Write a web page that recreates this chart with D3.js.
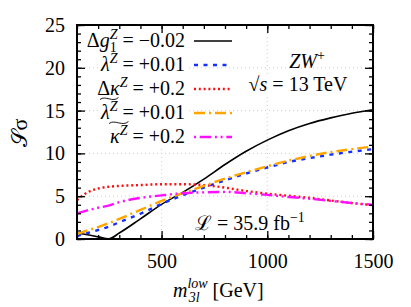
<!DOCTYPE html>
<html lang="en">
<head>
<meta charset="UTF-8">
<title>ZW+ sigma</title>
<script src="https://cdnjs.cloudflare.com/ajax/libs/d3/7.8.5/d3.min.js"></script>
<style>
  body { margin: 0; background: #fff; }
</style>
</head>
<body>
<svg width="411" height="307"></svg>
<script>
// m3l^low grid (GeV)
const mass = [100, 150, 200, 250, 300, 400, 500, 600, 700, 800, 900, 1000, 1100, 1200, 1300, 1400, 1500];
// significance for each coupling
const dg1 = [0.67, 0.5, 0.25, 0.02, 0.7, 2.35, 4.05, 5.45, 7.0, 8.7, 10.25, 11.55, 12.65, 13.5, 14.15, 14.7, 15.1];
const lam = [0.35, 0.7, 1.05, 1.45, 1.95, 2.95, 4.1, 5.1, 6.0, 6.85, 7.65, 8.35, 9.0, 9.45, 9.85, 10.2, 10.5];
const dkap = [4.55, 5.45, 5.9, 6.1, 6.2, 6.3, 6.4, 6.4, 6.3, 6.0, 5.6, 5.3, 5.05, 4.8, 4.5, 4.2, 3.95];
const lamT = [0.58, 1.0, 1.4, 1.85, 2.35, 3.4, 4.45, 5.35, 6.2, 7.05, 7.8, 8.5, 9.15, 9.7, 10.15, 10.5, 10.8];
const kapT = [3.0, 3.35, 3.65, 3.9, 4.3, 4.8, 5.1, 5.35, 5.45, 5.5, 5.35, 5.15, 4.9, 4.7, 4.45, 4.2, 4.0];

const xTicks = [500, 1000, 1500];
const yTicks = [0, 5, 10, 15, 20, 25];

const FONT = "Liberation Serif";
const svg = d3.select("svg");
const margin = {left: 77, top: 25, right: 38, bottom: 68};
const W = 411, H = 307;
const x = d3.scaleLinear().domain([100, 1500]).range([margin.left, W - margin.right]);
const y = d3.scaleLinear().domain([0, 25]).range([H - margin.bottom, margin.top]);

const series = [
  {vals: dg1,  color: "#000", width: 1.6, dash: null},
  {vals: lam,  color: "#1530ff", width: 2.4, dash: "4,5.5"},
  {vals: dkap, color: "#ff1010", width: 2.4, dash: "2,2.8"},
  {vals: lamT, color: "#ffa500", width: 2.4, dash: "11,4,2,4"},
  {vals: kapT, color: "#ff10ff", width: 2.4, dash: "11.5,3.7,2,3.7,2,3.7"}
];

// grid
const grid = svg.append("g").attr("stroke", "#cfcfcf").attr("stroke-width", 1).attr("stroke-dasharray", "1,3");
[500, 1000].forEach(v => grid.append("line").attr("x1", x(v)).attr("x2", x(v)).attr("y1", y(25)).attr("y2", y(0)));
[5, 10, 15, 20].forEach(v => grid.append("line").attr("x1", x(100)).attr("x2", x(1500)).attr("y1", y(v)).attr("y2", y(v)));

// opaque box behind a text
function opaque(t, pad) {
  const node = t.node();
  const b = node.getBBox();
  d3.select(node.parentNode).insert("rect", () => node)
    .attr("x", b.x - pad).attr("y", b.y + 2).attr("width", b.width + 2 * pad).attr("height", b.height - 3)
    .attr("fill", "#fff");
}

// legend
const legend = svg.append("g");
const legX = 185, rows = [41, 65, 89, 113, 137];
const fs = 20, fsm = 14;
function addLabel(i, parts) {
  const t = legend.append("text").attr("x", legX).attr("y", rows[i] + 6)
    .attr("text-anchor", "end").attr("font-size", fs).attr("font-family", FONT);
  parts.forEach(p => {
    const s = t.append("tspan").text(p.t);
    if (p.it) s.attr("font-style", "italic");
    if (p.fs) s.attr("font-size", p.fs);
    if (p.dy) s.attr("dy", p.dy);
    if (p.dx) s.attr("dx", p.dx);
  });
  return t;
}
const labels = [];
labels.push(addLabel(0, [{t: "Δ"}, {t: "g", it: 1}, {t: "1", fs: fsm, dy: 5}, {t: "Z", it: 1, fs: fsm, dy: -13, dx: -7}, {t: " = −0.02", dy: 8}]));
labels.push(addLabel(1, [{t: "λ", it: 1}, {t: "Z", it: 1, fs: fsm, dy: -8}, {t: " = +0.01", dy: 8}]));
labels.push(addLabel(2, [{t: "Δ"}, {t: "κ", it: 1}, {t: "Z", it: 1, fs: fsm, dy: -8}, {t: " = +0.2", dy: 8}]));
labels.push(addLabel(3, [{t: "λ", it: 1}, {t: "Z", it: 1, fs: fsm, dy: -8}, {t: " = +0.01", dy: 8}]));
labels.push(addLabel(4, [{t: "κ", it: 1}, {t: "Z", it: 1, fs: fsm, dy: -8}, {t: " = +0.2", dy: 8}]));
labels.forEach(t => opaque(t, 1));
// wide tildes over λ^Z and κ^Z
[3, 4].forEach(i => {
  const n = labels[i].node();
  const a = n.getExtentOfChar(0), b = n.getExtentOfChar(1);
  const x0 = a.x - 1, x1 = b.x + b.width + 1, yy = rows[i] - 15;
  const w = x1 - x0;
  legend.append("path")
    .attr("d", `M${x0},${yy + 1.5} C${x0 + w * 0.3},${yy - 3} ${x0 + w * 0.7},${yy + 5} ${x1},${yy - 0.5}`)
    .attr("fill", "none").attr("stroke", "#000").attr("stroke-width", 0.9);
});

// text labels in the plot
const zw = svg.append("text").attr("x", 307).attr("y", 68).attr("text-anchor", "middle")
  .attr("font-size", fs).attr("font-family", FONT);
zw.append("tspan").attr("font-style", "italic").text("ZW");
zw.append("tspan").attr("font-size", fsm).attr("dy", -8).text("+");
const rs = svg.append("text").attr("x", 298).attr("y", 91).attr("text-anchor", "middle")
  .attr("font-size", fs).attr("font-family", FONT);
rs.append("tspan").text("√");
rs.append("tspan").attr("font-style", "italic").text("s");
rs.append("tspan").text(" = 13 TeV");
opaque(rs, 1);
const lum = svg.append("text").attr("x", 195).attr("y", 230).attr("font-size", fs).attr("font-family", FONT);
lum.append("tspan").text("ℒ = 35.9 fb");
lum.append("tspan").attr("font-size", fsm).attr("dy", -8).text("−1");
opaque(lum, 1);

// curves
const line = d3.line().x((d, i) => x(mass[i])).y(d => y(d)).curve(d3.curveMonotoneX);
svg.append("g").selectAll("path").data(series).join("path")
  .attr("d", d => line(d.vals))
  .attr("fill", "none")
  .attr("stroke", d => d.color)
  .attr("stroke-width", d => d.width)
  .attr("stroke-dasharray", d => d.dash);

// legend samples
legend.selectAll("line.s").data(series).join("line")
  .attr("class", "s")
  .attr("x1", 194).attr("x2", 232)
  .attr("y1", (d, i) => rows[i]).attr("y2", (d, i) => rows[i])
  .attr("stroke", d => d.color).attr("stroke-width", d => d.width)
  .attr("stroke-dasharray", d => d.dash)
  .attr("stroke-dashoffset", (d, i) => i === 4 ? 20.9 : 0);

// axes (ticks inside, mirrored)
const minorX = d3.range(100, 1501, 100), minorY = d3.range(0, 26, 1);
function ticks(axis, vals, size) {
  return axis.tickValues(vals).tickSize(size).tickFormat("");
}
const fmt = d3.format("d");
const axB = svg.append("g").attr("transform", `translate(0,${y(0)})`);
axB.call(ticks(d3.axisBottom(x), minorX, -4));
axB.append("g").call(d3.axisBottom(x).tickValues(xTicks).tickFormat(fmt).tickSize(-8).tickPadding(15));
const axT = svg.append("g").attr("transform", `translate(0,${y(25)})`);
axT.call(ticks(d3.axisTop(x), minorX, -4));
axT.append("g").call(ticks(d3.axisTop(x), xTicks, -8));
const axL = svg.append("g").attr("transform", `translate(${x(100)},0)`);
axL.call(ticks(d3.axisLeft(y), minorY, -4));
axL.append("g").call(d3.axisLeft(y).tickValues(yTicks).tickFormat(fmt).tickSize(-8).tickPadding(12));
const axR = svg.append("g").attr("transform", `translate(${x(1500)},0)`);
axR.call(ticks(d3.axisRight(y), minorY, -4));
axR.append("g").call(ticks(d3.axisRight(y), yTicks, -8));

svg.selectAll(".domain").remove();
svg.selectAll(".tick line").attr("stroke", "#000").attr("stroke-width", 1.3);
svg.selectAll(".tick text").attr("font-family", FONT).attr("font-size", 20).attr("fill", "#000");

svg.append("rect")
  .attr("x", x(100)).attr("y", y(25)).attr("width", x(1500) - x(100)).attr("height", y(0) - y(25))
  .attr("fill", "none").attr("stroke", "#000").attr("stroke-width", 2);

// axis titles
const xl = svg.append("text").attr("x", 173).attr("y", 297).attr("font-size", fs).attr("font-family", FONT);
xl.append("tspan").attr("font-style", "italic").text("m");
xl.append("tspan").attr("font-style", "italic").attr("font-size", fsm).attr("dy", -9).text("low");
xl.append("tspan").attr("font-style", "italic").attr("font-size", fsm).attr("dy", 14).attr("dx", -19).text("3l");
xl.append("tspan").attr("dy", -5).attr("dx", 13).text("[GeV]");

svg.append("text").attr("transform", "translate(27,133) rotate(-90)")
  .attr("text-anchor", "middle").attr("font-size", 22).attr("font-family", FONT)
  .text("𝒮σ");
</script>
</body>
</html>
